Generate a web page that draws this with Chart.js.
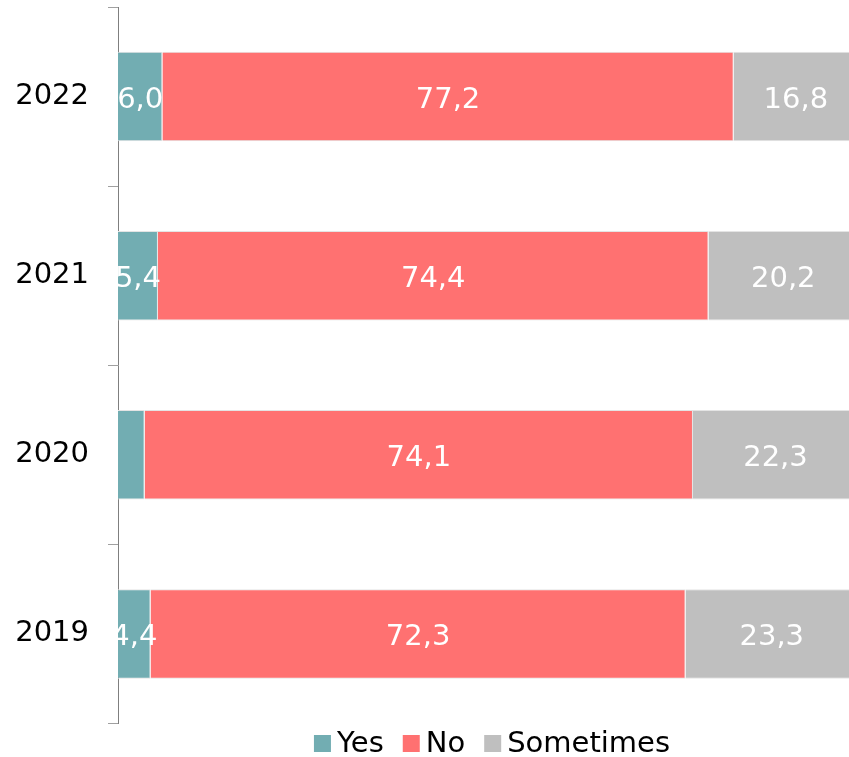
<!DOCTYPE html>
<html>
<head>
<meta charset="utf-8">
<script src="https://cdn.jsdelivr.net/npm/chart.js@4/dist/chart.umd.min.js"></script>
<style>
  html, body { margin: 0; padding: 0; background: #ffffff; }
  #wrap { width: 849px; height: 757px; overflow: hidden; position: relative; }
  canvas { display: block; }
</style>
</head>
<body>
<div id="wrap"><canvas id="c" width="870" height="757"></canvas></div>
<script>
// ---- data ----
const years = ['2022', '2021', '2020', '2019'];
const seriesNames = ['Yes', 'No', 'Sometimes'];
const yesValues = [6.0, 5.4, 3.6, 4.4];
const noValues = [77.2, 74.4, 74.1, 72.3];
const sometimesValues = [16.8, 20.2, 22.3, 23.3];

// ---- styles ----
const colors = ['#72ADB2', '#FF7171', '#BFBFBF'];
const FONT = "'DejaVu Sans', Verdana, sans-serif";

const valueLabels = {
  id: 'valueLabels',
  afterDatasetsDraw(chart) {
    const ctx = chart.ctx;
    const area = chart.chartArea;
    ctx.save();
    ctx.beginPath();
    ctx.rect(area.left, area.top, area.right - area.left, area.bottom - area.top);
    ctx.clip();
    ctx.fillStyle = '#ffffff';
    ctx.font = '29px ' + FONT;
    ctx.textAlign = 'center';
    ctx.textBaseline = 'alphabetic';
    chart.data.datasets.forEach((ds, di) => {
      const meta = chart.getDatasetMeta(di);
      meta.data.forEach((bar, i) => {
        const v = ds.data[i];
        if (v < 4) return;
        const p = bar.getProps(['x', 'y', 'base'], true);
        const cx = (p.x + p.base) / 2;
        ctx.fillText(v.toFixed(1).replace('.', ','), cx, p.y + 11.5);
      });
    });
    ctx.restore();
  }
};

const customLegend = {
  id: 'customLegend',
  afterDraw(chart) {
    const ctx = chart.ctx;
    ctx.save();
    ctx.font = '29px ' + FONT;
    const box = 17, gapText = 6, gapItem = 19;
    const items = chart.data.datasets.map(ds => ({
      label: ds.label, color: ds.backgroundColor, w: ctx.measureText(ds.label).width
    }));
    let total = 0;
    items.forEach((it, i) => { total += box + gapText + it.w + (i < items.length - 1 ? gapItem : 0); });
    const center = (chart.chartArea.left + chart.chartArea.right) / 2 + 4;
    let x = center - total / 2;
    ctx.textAlign = 'left';
    ctx.textBaseline = 'alphabetic';
    items.forEach(it => {
      ctx.fillStyle = it.color;
      ctx.fillRect(x, 735, box, box);
      x += box + gapText;
      ctx.fillStyle = '#000000';
      ctx.fillText(it.label, x, 751.5);
      x += it.w + gapItem;
    });
    ctx.restore();
  }
};

const seriesData = [yesValues, noValues, sometimesValues];

new Chart(document.getElementById('c'), {
  type: 'bar',
  data: {
    labels: years,
    datasets: seriesNames.map((name, i) => ({
      label: name,
      data: seriesData[i],
      backgroundColor: colors[i],
      borderColor: '#e4e4e4',
      borderWidth: 1,
      categoryPercentage: 1,
      barPercentage: 0.5
    }))
  },
  options: {
    indexAxis: 'y',
    responsive: false,
    animation: false,
    devicePixelRatio: 1,
    layout: { padding: { top: 7, right: 12, bottom: 33.5, left: 0 } },
    plugins: {
      legend: { display: false },
      tooltip: { enabled: false }
    },
    scales: {
      x: {
        stacked: true,
        min: 0,
        max: 100,
        display: false
      },
      y: {
        stacked: true,
        offset: true,
        afterFit(scale) {
          scale.width = 118;
          scale.paddingTop = 0;
          scale.paddingBottom = 0;
        },
        border: { display: true, color: '#7f7f7f', width: 1 },
        grid: {
          display: true,
          offset: true,
          drawOnChartArea: false,
          drawTicks: true,
          tickLength: 10,
          tickColor: '#a0a0a0',
          tickWidth: 1
        },
        ticks: {
          color: '#000000',
          padding: 19,
          font: { family: FONT, size: 29 }
        }
      }
    }
  },
  plugins: [valueLabels, customLegend]
});
</script>
</body>
</html>
